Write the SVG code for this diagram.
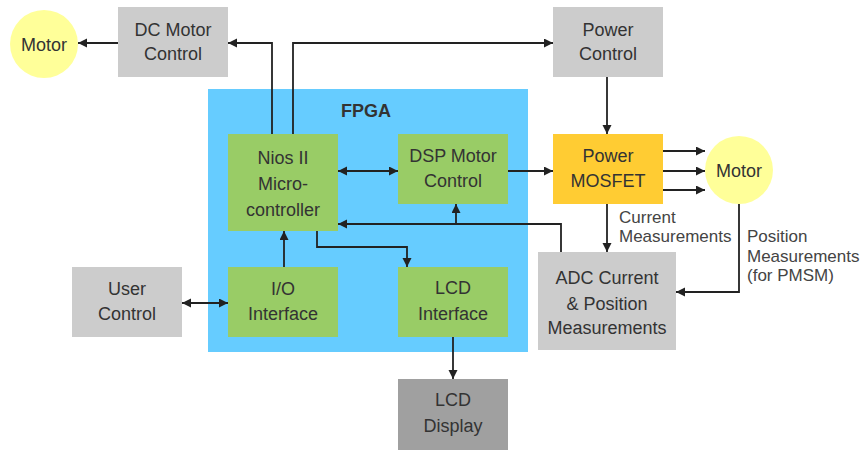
<svg xmlns="http://www.w3.org/2000/svg" width="864" height="450" viewBox="0 0 864 450">
<style>
.gray{fill:#CCCCCC}
.green{fill:#99CC66}
.dark{fill:#A0A0A0}
.mos{fill:#FFCC33}
.motor{fill:#FFFF99}
.fpga{fill:#66CCFF}
text{font-family:"Liberation Sans",Arial,sans-serif;font-size:18px;fill:#333;text-anchor:middle}
text.lbl{font-size:17px;text-anchor:start;fill:#444}
text.title{font-weight:bold;font-size:18px;fill:#333}
.conn path{fill:none;stroke:#222;stroke-width:1.8;marker-end:url(#ah)}
.conn path.both{marker-start:url(#ah)}
.conn path.plain{marker-end:none}
</style>
<defs>
<marker id="ah" markerUnits="userSpaceOnUse" markerWidth="10" markerHeight="10" refX="9" refY="4.5" orient="auto-start-reverse">
<path d="M0,0 L9,4.5 L0,9 z" fill="#222"/>
</marker>
</defs>
<rect width="864" height="450" fill="#FFFFFF"/>
<g id="fpga">
<rect class="fpga" x="208" y="89" width="320" height="263"/>
<text class="title" x="366" y="117">FPGA</text>
</g>
<g id="motor-left">
<circle class="motor" cx="44" cy="44" r="34"/>
<text x="44" y="50.5">Motor</text>
</g>
<g id="dc-motor-control">
<rect class="gray" x="118" y="7" width="110" height="70"/>
<text x="173" y="35.5">DC Motor</text>
<text x="173" y="59.5">Control</text>
</g>
<g id="power-control">
<rect class="gray" x="553" y="7" width="110" height="70"/>
<text x="608" y="35.5">Power</text>
<text x="608" y="60">Control</text>
</g>
<g id="nios">
<rect class="green" x="228" y="134" width="110" height="97"/>
<text x="283" y="163.5">Nios II</text>
<text x="283" y="189.5">Micro-</text>
<text x="283" y="215.5">controller</text>
</g>
<g id="dsp">
<rect class="green" x="398" y="134" width="110" height="70"/>
<text x="453" y="161.5">DSP Motor</text>
<text x="453" y="187">Control</text>
</g>
<g id="mosfet">
<rect class="mos" x="553" y="134" width="110" height="70"/>
<text x="608" y="161.5">Power</text>
<text x="608" y="186.5">MOSFET</text>
</g>
<g id="motor-right">
<circle class="motor" cx="739" cy="170" r="34"/>
<text x="739" y="176.5">Motor</text>
</g>
<g id="user-control">
<rect class="gray" x="72" y="267" width="110" height="70"/>
<text x="127" y="294.5">User</text>
<text x="127" y="319.5">Control</text>
</g>
<g id="io-interface">
<rect class="green" x="228" y="267" width="110" height="70"/>
<text x="283" y="294.5">I/O</text>
<text x="283" y="319.5">Interface</text>
</g>
<g id="lcd-interface">
<rect class="green" x="398" y="267" width="110" height="70"/>
<text x="453" y="294">LCD</text>
<text x="453" y="319.5">Interface</text>
</g>
<g id="adc">
<rect class="gray" x="538" y="252" width="138" height="98"/>
<text x="607" y="283.5">ADC Current</text>
<text x="607" y="309.5">&amp; Position</text>
<text x="607" y="333.5">Measurements</text>
</g>
<g id="lcd-display">
<rect class="dark" x="398" y="379" width="110" height="71"/>
<text x="453" y="405.5">LCD</text>
<text x="453" y="432">Display</text>
</g>
<g id="connectors" class="conn">
<path d="M118,43 L78,43"/>
<path d="M272,134 L272,43 L228,43"/>
<path d="M293,134 L293,43 L553,43"/>
<path d="M607,77 L607,134"/>
<path class="both" d="M338,171 L398,171"/>
<path d="M508,171 L553,171"/>
<path d="M663,151 L705,151"/>
<path d="M663,171 L705,171"/>
<path d="M663,190 L705,190"/>
<path d="M607,204 L607,252"/>
<path d="M739,204 L739,292 L676,292"/>
<path d="M561,252 L561,224 L338,224"/>
<path d="M456,224 L456,204"/>
<path d="M317,231 L317,247 L407,247 L407,267"/>
<path d="M284,267 L284,231"/>
<path class="both" d="M182,303 L228,303"/>
<path d="M453,337 L453,379"/>
</g>
<g id="labels">
<text class="lbl" x="619" y="222.5">Current</text>
<text class="lbl" x="619" y="241.5">Measurements</text>
<text class="lbl" x="747" y="241.5">Position</text>
<text class="lbl" x="747" y="262">Measurements</text>
<text class="lbl" x="747" y="281">(for PMSM)</text>
</g>
</svg>
